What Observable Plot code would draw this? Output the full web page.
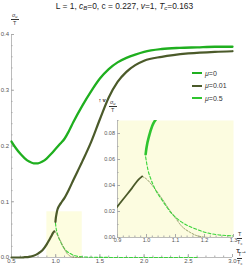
<!DOCTYPE html>
<html><head><meta charset="utf-8">
<script src="https://cdn.jsdelivr.net/npm/d3@7"></script>
<script src="https://cdn.jsdelivr.net/npm/@observablehq/plot@0.6"></script>
<style>
body{margin:0;background:#fff;font-family:"Liberation Sans",Arial,sans-serif;}
#wrap{position:relative;width:249px;height:266px;overflow:hidden;}
#title{height:14px;line-height:13px;font-size:8.4px;text-align:center;color:#222;white-space:nowrap;}
#title sub{font-size:6px;vertical-align:-1px;line-height:0;}
.frac{position:absolute;font-size:5.5px;color:#333;text-align:center;}
.frac .num{height:6.5px;line-height:6.5px;border-bottom:0.8px solid #333;padding:0 1px;margin-bottom:0.5px;}
.frac .den{height:6.5px;line-height:6.5px;}
.frac sub{font-size:4px;vertical-align:0;position:relative;top:1px;line-height:0;}
#legend{position:absolute;left:192px;top:67px;font-size:7px;color:#333;}
#legend .row{height:12.5px;display:flex;align-items:center;}
#legend .sw{width:10px;height:2px;margin-right:3px;}
svg{overflow:visible;}
</style></head>
<body>
<div id="wrap">
<div id="title">L = 1, <i>c<sub>B</sub></i>=0, c = 0.227, <i>v</i>=1, <i>T<sub>c</sub></i>=0.163</div>
<div id="main"></div>
<div id="inset" style="position:absolute;left:95px;top:95px;"></div>
<div class="frac" style="left:11px;top:12px;"><div class="num"><i>σ<sub>u</sub></i></div><div class="den">T</div></div>
<div class="frac" style="left:109px;top:99px;"><div class="num"><i>σ<sub>u</sub></i></div><div class="den">T</div></div>
<div class="frac" style="left:237px;top:251px;"><div class="num">T</div><div class="den">T<sub>c</sub></div></div>
<div class="frac" style="left:237px;top:231px;"><div class="num">T</div><div class="den">T<sub>c</sub></div></div>
<div id="legend"></div>
</div>
<script>
// mu = 0 (stable branch)
const T_mu0 = [0.5,0.55,0.6,0.65,0.7,0.75,0.8,0.85,0.9,0.95,1.0,1.05,1.1,1.15,1.2,1.3,1.4,1.5,1.6,1.7,1.8,1.9,2.0,2.2,2.4,2.6,2.8,3.0];
const v_mu0 = [0.208,0.196,0.186,0.178,0.172,0.169,0.169,0.172,0.178,0.186,0.195,0.204,0.213,0.227,0.243,0.272,0.298,0.321,0.338,0.350,0.358,0.364,0.369,0.374,0.376,0.377,0.378,0.378];
// mu = 0.01 lower stable branch
const T_low = [0.5,0.6,0.65,0.7,0.75,0.8,0.85,0.9,0.925,0.95,0.97,0.985];
const v_low = [0,0,0.0005,0.0012,0.003,0.007,0.013,0.024,0.031,0.038,0.044,0.047];
// upper stable branch
const T_up = [0.997,1.0,1.01,1.02,1.04,1.07,1.1,1.15,1.2,1.3,1.4,1.5,1.6,1.7,1.8,1.9,2.0,2.2,2.5,2.8,3.0];
const v_up = [0.064,0.069,0.079,0.086,0.093,0.100,0.107,0.122,0.139,0.172,0.207,0.248,0.287,0.315,0.333,0.345,0.353,0.36,0.366,0.369,0.37];
// mu = 0.01 unstable (dashed)
const T_un1 = [0.985,1.0,1.02,1.05,1.08,1.1,1.12,1.15,1.18,1.22,1.3];
const v_un1 = [0.047,0.045,0.040,0.031,0.021,0.015,0.009,0.004,0.001,0,0];
// mu = 0.5 unstable (dashed)
const T_un2 = [0.997,1.005,1.015,1.03,1.05,1.085,1.12,1.165,1.22,1.3,1.5,2.0,2.6];
const v_un2 = [0.062,0.052,0.045,0.037,0.030,0.019,0.012,0.007,0.003,0.0012,0.0002,0,0];
// legend
const legendLabels = ["μ=0","μ=0.01","μ=0.5"];
const colors = {mu0:"#1faf1f", mu001:"#4b5a2a", mu05:"#2fc42f", dash1:"#8d9560", dash2:"#3ad43a"};
const legendColors = [colors.mu0, colors.mu001, colors.mu05];
const zoomBox = [{x1:0.9,x2:1.3,y1:0,y2:0.082}];

const mainTicksY = [0,0.1,0.2,0.3,0.4];
const mainTicksX = [0.5,1.0,1.5,2.0,2.5,3.0];
const insetTicksY = [0,0.02,0.04,0.06,0.08];
const insetTicksX = [0.9,1.0,1.1,1.2,1.3];

const pts = (T, v) => T.map((t, i) => ({T: t, v: v[i]}));
const dMu0 = pts(T_mu0, v_mu0), dLow = pts(T_low, v_low), dUp = pts(T_up, v_up),
      dUn1 = pts(T_un1, v_un1), dUn2 = pts(T_un2, v_un2);

const axColor = "#aaa", txtColor = "#555";
function axes(xd, yd, ticksX, ticksY, minorX, minorY, fmtX, fmtY) {
  return [
    Plot.ruleX([xd[0]], {stroke: axColor, strokeWidth: 0.8}),
    Plot.ruleY([yd[0]], {stroke: axColor, strokeWidth: 0.8}),
    Plot.axisY({ticks: minorY, tickSize: -1.5, tickFormat: () => "", stroke: axColor}),
    Plot.axisY({ticks: ticksY, tickSize: -3, tickPadding: 5.5, tickFormat: d3.format(fmtY), stroke: axColor, fill: txtColor}),
    Plot.axisX({ticks: minorX, tickSize: -1.5, tickFormat: () => "", stroke: axColor}),
    Plot.axisX({ticks: ticksX, tickSize: -3, tickPadding: 4, tickFormat: d3.format(fmtX), stroke: axColor, fill: txtColor})
  ];
}

const main = Plot.plot({
  width: 249, height: 252,
  marginLeft: 11, marginRight: 17, marginTop: 20, marginBottom: 9,
  x: {domain: [0.5, 3.0]}, y: {domain: [0, 0.4]},
  style: {background: "transparent", fontSize: "6px", fontFamily: "Liberation Sans, Arial, sans-serif"},
  marks: [
    Plot.rect(zoomBox, {x1: "x1", x2: "x2", y1: "y1", y2: "y2", fill: "#fdfde0"}),
    ...axes([0.5,3], [0,0.4], mainTicksX, mainTicksY, d3.range(0.5, 3.001, 0.1), d3.range(0, 0.401, 0.02), ".1f", ".1f"),
    Plot.line(dUn2, {x: "T", y: "v", stroke: colors.dash2, strokeWidth: 1.1, strokeDasharray: "3,2", curve: "monotone-x"}),
    Plot.line(dUn1, {x: "T", y: "v", stroke: colors.dash1, strokeWidth: 0.9, strokeDasharray: "2,1.5", curve: "monotone-x"}),
    Plot.line(dMu0, {x: "T", y: "v", stroke: colors.mu0, strokeWidth: 2.3, curve: "monotone-x"}),
    Plot.line(dLow, {x: "T", y: "v", stroke: colors.mu001, strokeWidth: 2.2, curve: "monotone-x"}),
    Plot.line(dUp, {x: "T", y: "v", stroke: colors.mu001, strokeWidth: 2.2, curve: "monotone-x"})
  ]
});
document.getElementById("main").appendChild(main);

const inset = Plot.plot({
  width: 154, height: 160,
  marginLeft: 22, marginRight: 16, marginTop: 25, marginBottom: 18,
  x: {domain: [0.9, 1.3]}, y: {domain: [0, 0.09]},
  style: {background: "transparent", fontSize: "5.5px", fontFamily: "Liberation Sans, Arial, sans-serif"},
  marks: [
    Plot.frame({fill: "#fcfce0", stroke: null}),
    ...axes([0.9,1.3], [0,0.09], insetTicksX, insetTicksY, d3.range(0.9, 1.301, 0.02), d3.range(0, 0.0901, 0.01), ".1f", ".2f"),
    Plot.line(dUn1, {x: "T", y: "v", stroke: colors.dash1, strokeWidth: 0.9, strokeDasharray: "2,1.5", curve: "monotone-x", clip: true}),
    Plot.line(dUn2, {x: "T", y: "v", stroke: colors.dash2, strokeWidth: 1.1, strokeDasharray: "3,2", curve: "monotone-x", clip: true}),
    Plot.line(dLow, {x: "T", y: "v", stroke: colors.mu001, strokeWidth: 1.8, curve: "monotone-x", clip: true}),
    Plot.line(dUp, {x: "T", y: "v", stroke: colors.mu05, strokeWidth: 2.6, curve: "monotone-x", clip: true})
  ]
});
document.getElementById("inset").appendChild(inset);

const leg = document.getElementById("legend");
legendLabels.forEach((lab, i) => {
  const row = document.createElement("div");
  row.className = "row";
  row.innerHTML = `<span class="sw" style="background:${legendColors[i]}"></span><span><i>μ</i>${lab.slice(1)}</span>`;
  leg.appendChild(row);
});
</script>
</body></html>
